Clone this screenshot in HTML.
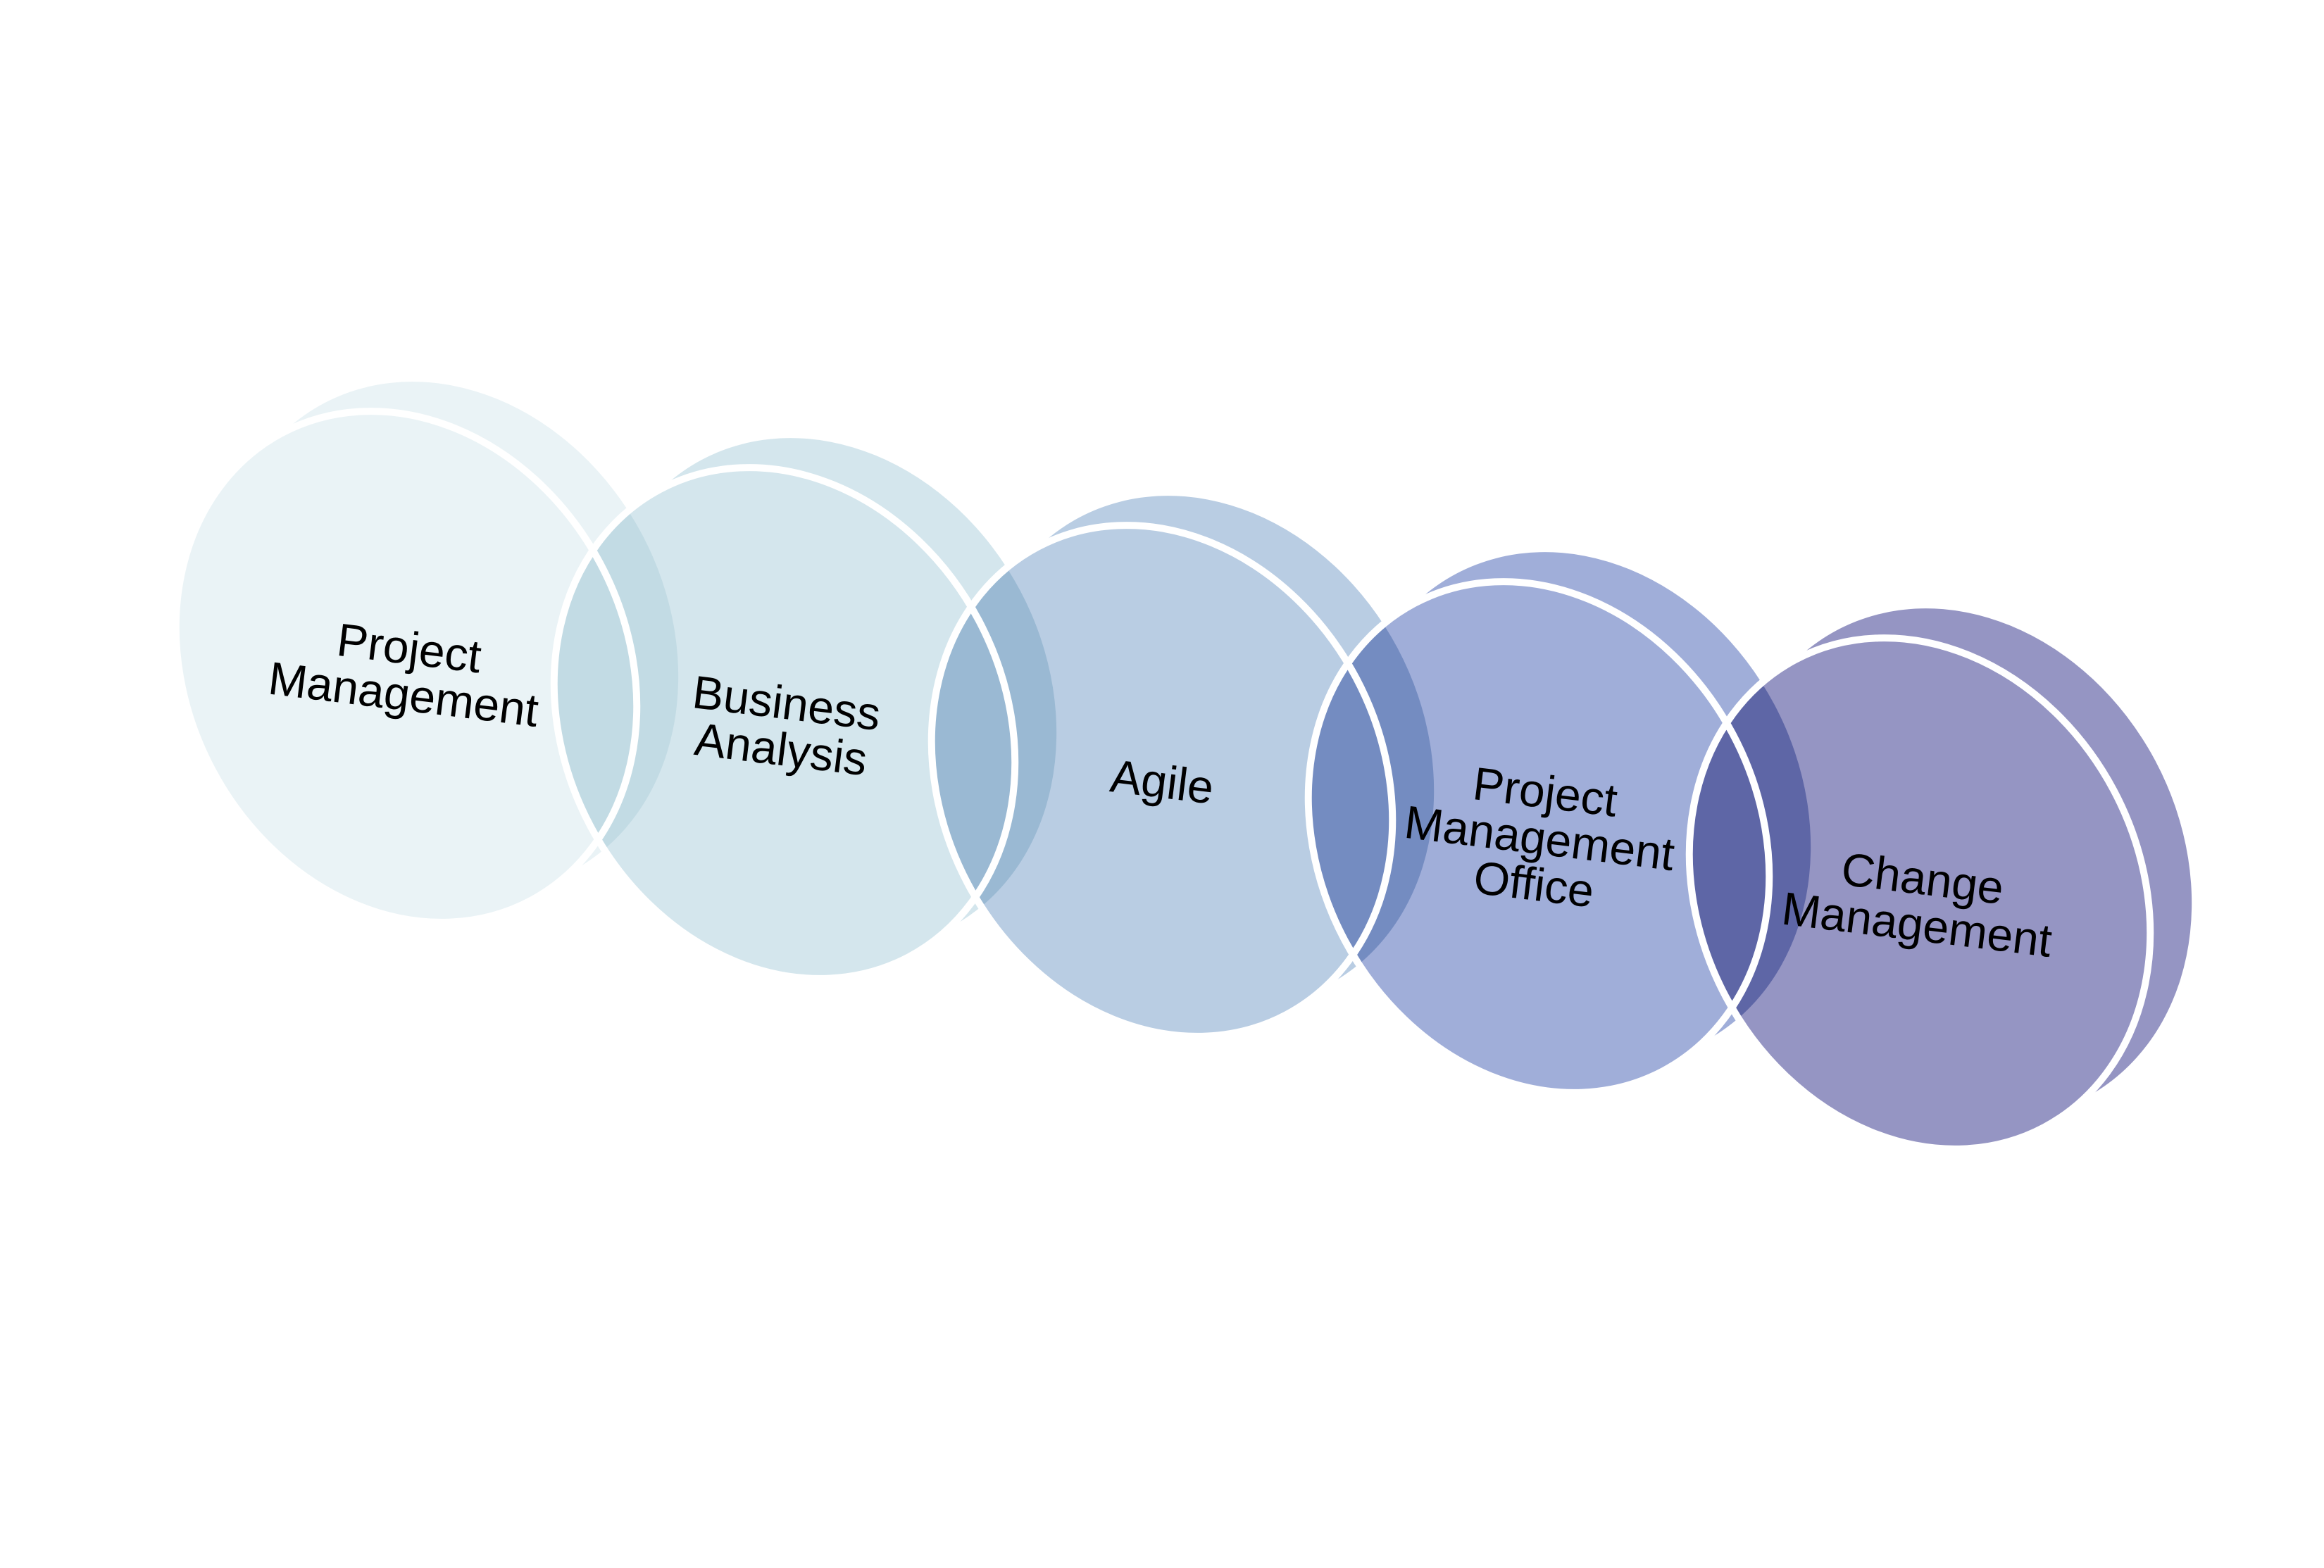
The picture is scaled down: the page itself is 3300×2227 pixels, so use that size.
<!DOCTYPE html>
<html><head><meta charset="utf-8"><style>
html,body{margin:0;padding:0;background:#fff;}
svg{display:block;}
text{font-family:"Liberation Sans",Arial,sans-serif;font-size:66px;fill:#000;}
</style></head><body>
<svg width="3300" height="2227" viewBox="0 0 3300 2227" xmlns="http://www.w3.org/2000/svg">
<rect width="3300" height="2227" fill="#fff"/>
<defs>
<g id="e"><ellipse cx="0" cy="0" rx="312" ry="376" transform="rotate(-28)"/></g>
</defs>
<g style="mix-blend-mode:multiply">
 <g fill="#eaf3f6"><use href="#e" x="636" y="905"/><use href="#e" x="577" y="947"/></g>
</g>
<g style="mix-blend-mode:multiply">
 <g fill="#d4e6ed"><use href="#e" x="1173" y="985"/><use href="#e" x="1114" y="1027"/></g>
</g>
<g style="mix-blend-mode:multiply">
 <g fill="#b9cde3"><use href="#e" x="1709" y="1067"/><use href="#e" x="1650" y="1109"/></g>
</g>
<g style="mix-blend-mode:multiply">
 <g fill="#a0aed9"><use href="#e" x="2244" y="1147"/><use href="#e" x="2185" y="1189"/></g>
</g>
<g style="mix-blend-mode:multiply">
 <g fill="#9595c3"><use href="#e" x="2785" y="1227"/><use href="#e" x="2726" y="1269"/></g>
</g>
<g fill="none" stroke="#fff" stroke-width="10">
 <use href="#e" x="577" y="947"/>
 <use href="#e" x="1114" y="1027"/>
 <use href="#e" x="1650" y="1109"/>
 <use href="#e" x="2185" y="1189"/>
 <use href="#e" x="2726" y="1269"/>
</g>
<g text-anchor="middle">
 <g transform="translate(577,953) rotate(7)"><text y="-10">Project</text><text y="56">Management</text></g>
 <g transform="translate(1113,1031) rotate(7)"><text y="-10">Business</text><text y="56">Analysis</text></g>
 <g transform="translate(1650,1111) rotate(7)"><text y="22">Agile</text></g>
 <g transform="translate(2186,1191) rotate(7)"><text y="-44">Project</text><text y="22">Management</text><text y="88">Office</text></g>
 <g transform="translate(2726,1280) rotate(7)"><text y="-10">Change</text><text y="56">Management</text></g>
</g>
</svg>
</body></html>
